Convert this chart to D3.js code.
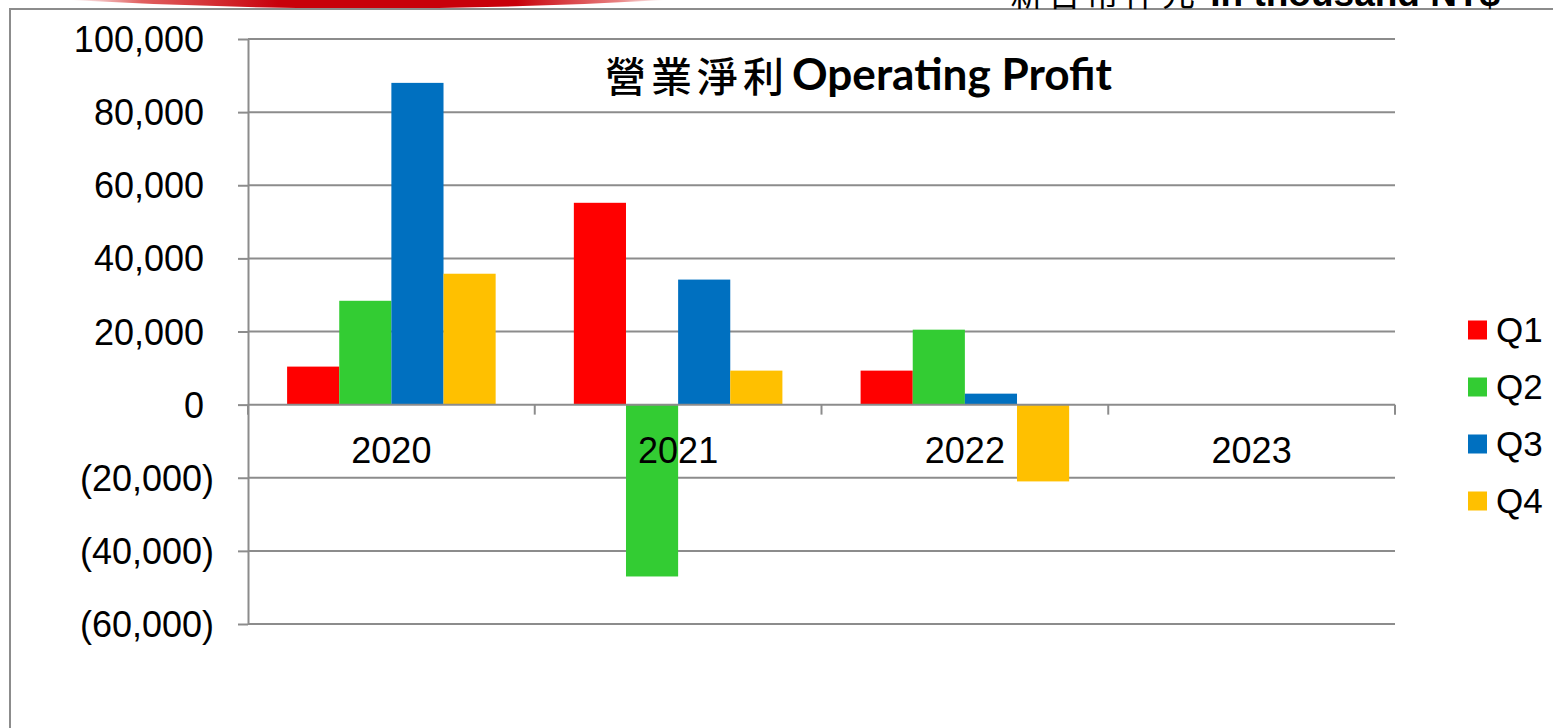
<!DOCTYPE html>
<html>
<head>
<meta charset="utf-8">
<script src="https://cdn.jsdelivr.net/npm/d3@7"></script>
<style>
  html, body { margin: 0; padding: 0; background: #fff; overflow: hidden; }
  svg { display: block; }
</style>
</head>
<body>
<svg id="chart" width="1553" height="728"></svg>
<script>
// Operating profit per quarter, in thousand NT$
const years = ['2020', '2021', '2022', '2023'];
const quarters = ['Q1', 'Q2', 'Q3', 'Q4'];
const q1 = [10400, 55200, 9300, null];
const q2 = [28400, -47000, 20500, null];
const q3 = [88000, 34200, 3000, null];
const q4 = [35800, 9300, -21000, null];
const yTicks = [100000, 80000, 60000, 40000, 20000, 0, -20000, -40000, -60000];
const colors = ['#ff0000', '#33cc33', '#0070c0', '#ffc000'];

const series = [q1, q2, q3, q4];

const conf = {
  left: 248,
  right: 1395,
  top: 39,
  bottom: 624,
  gridColor: '#8c8c8c'
};

const svg = d3.select('#chart');

// Red banner peeking in at the top, and the slide frame
const defs = svg.append('defs');
const grad = defs.append('linearGradient')
  .attr('id', 'banner').attr('x1', 0).attr('x2', 1).attr('y1', 0).attr('y2', 0);
grad.append('stop').attr('offset', '0%').attr('stop-color', '#ffffff');
grad.append('stop').attr('offset', '12%').attr('stop-color', '#e06060');
grad.append('stop').attr('offset', '35%').attr('stop-color', '#c8000a');
grad.append('stop').attr('offset', '75%').attr('stop-color', '#c8000a');
grad.append('stop').attr('offset', '92%').attr('stop-color', '#e88080');
grad.append('stop').attr('offset', '100%').attr('stop-color', '#ffffff');
svg.append('path')
  .attr('d', 'M70,0 Q368,17 665,0 Z')
  .attr('fill', 'url(#banner)');

svg.append('line')
  .attr('x1', 9).attr('x2', 1553).attr('y1', 9).attr('y2', 9)
  .attr('stroke', conf.gridColor).attr('stroke-width', 2);
svg.append('line')
  .attr('x1', 10).attr('x2', 10).attr('y1', 9).attr('y2', 728)
  .attr('stroke', conf.gridColor).attr('stroke-width', 2);

// Unit note, mostly cut off by the top edge (as in the slide)
const unit = svg.append('text')
  .attr('x', 1010).attr('y', 6)
  .attr('font-size', 33);
unit.append('tspan')
  .attr('font-family', '"Noto Sans CJK TC"')
  .attr('letter-spacing', 5)
  .text('新台幣仟元');
unit.append('tspan')
  .attr('font-family', '"Liberation Sans", Arial')
  .attr('font-weight', 'bold')
  .attr('font-size', 37)
  .text(' In thousand NT$');

// Scales
const x = d3.scaleBand()
  .domain(years)
  .range([conf.left, conf.right])
  .paddingInner(0).paddingOuter(0);

const xq = d3.scaleBand()
  .domain(quarters)
  .range([0, x.bandwidth()])
  .paddingInner(0).paddingOuter(0.75);

const y = d3.scaleLinear()
  .domain([-60000, 100000])
  .range([conf.bottom, conf.top]);

// Gridlines
svg.append('g').selectAll('line')
  .data(yTicks.filter(t => t !== 0))
  .enter().append('line')
  .attr('x1', conf.left).attr('x2', conf.right)
  .attr('y1', d => y(d)).attr('y2', d => y(d))
  .attr('stroke', conf.gridColor).attr('stroke-width', 2);

// Bars
const rows = [];
years.forEach((yr, i) => {
  quarters.forEach((q, j) => {
    if (series[j][i] != null) rows.push({year: yr, q, v: series[j][i], c: colors[j]});
  });
});

svg.append('g').selectAll('rect')
  .data(rows)
  .enter().append('rect')
  .attr('x', d => x(d.year) + xq(d.q))
  .attr('width', xq.bandwidth())
  .attr('y', d => y(Math.max(0, d.v)))
  .attr('height', d => Math.abs(y(d.v) - y(0)))
  .attr('fill', d => d.c);

// Value axis
const fmt = d3.format(',');
const yAxis = svg.append('g')
  .attr('transform', `translate(${conf.left},0)`)
  .call(d3.axisLeft(y).tickValues(yTicks).tickSizeInner(10).tickSizeOuter(0)
    .tickFormat(d => d < 0 ? `(${fmt(-d)})` : fmt(d)));
yAxis.select('.domain').attr('stroke', conf.gridColor).attr('stroke-width', 2);
yAxis.selectAll('.tick line').attr('stroke', conf.gridColor).attr('stroke-width', 2);
yAxis.selectAll('.tick text')
  .attr('font-family', '"Liberation Sans", Arial')
  .attr('font-size', 36)
  .attr('fill', '#000')
  .attr('x', d => d < 0 ? -34 : -44)
  .attr('dy', '0.35em');

// Category axis on the zero line
const xAxis = svg.append('g')
  .attr('transform', `translate(0,${y(0)})`);
xAxis.append('line')
  .attr('x1', conf.left).attr('x2', conf.right)
  .attr('stroke', conf.gridColor).attr('stroke-width', 2);
xAxis.selectAll('.cat-tick')
  .data(years.map(d => x(d)).concat([conf.right]))
  .enter().append('line')
  .attr('class', 'cat-tick')
  .attr('x1', d => d).attr('x2', d => d)
  .attr('y1', 0).attr('y2', 10)
  .attr('stroke', conf.gridColor).attr('stroke-width', 2);
xAxis.selectAll('text')
  .data(years)
  .enter().append('text')
  .attr('x', d => x(d) + x.bandwidth() / 2)
  .attr('y', 58)
  .attr('text-anchor', 'middle')
  .attr('font-family', '"Liberation Sans", Arial')
  .attr('font-size', 36)
  .text(d => d);

// Title
const title = svg.append('g');
title.append('text')
  .attr('x', 605).attr('y', 92)
  .attr('font-family', '"Noto Sans CJK TC"')
  .attr('font-weight', 500)
  .attr('font-size', 41)
  .attr('letter-spacing', 5)
  .text('營業淨利');
title.append('text')
  .attr('x', 792).attr('y', 90)
  .attr('font-family', 'Lato, "Open Sans"')
  .attr('font-weight', 'bold')
  .attr('font-size', 44)
  .attr('textLength', 320)
  .attr('lengthAdjust', 'spacingAndGlyphs')
  .text('Operating Profit');

// Legend
const legend = svg.append('g')
  .attr('transform', 'translate(1468,330)');
const item = legend.selectAll('g')
  .data(quarters)
  .enter().append('g')
  .attr('transform', (d, i) => `translate(0,${i * 57})`);
item.append('rect')
  .attr('x', 0).attr('y', -9.5)
  .attr('width', 19).attr('height', 19)
  .attr('fill', (d, i) => colors[i]);
item.append('text')
  .attr('x', 28).attr('dy', '0.35em')
  .attr('font-family', '"Liberation Sans", Arial')
  .attr('font-size', 35)
  .text(d => d);
</script>
</body>
</html>
